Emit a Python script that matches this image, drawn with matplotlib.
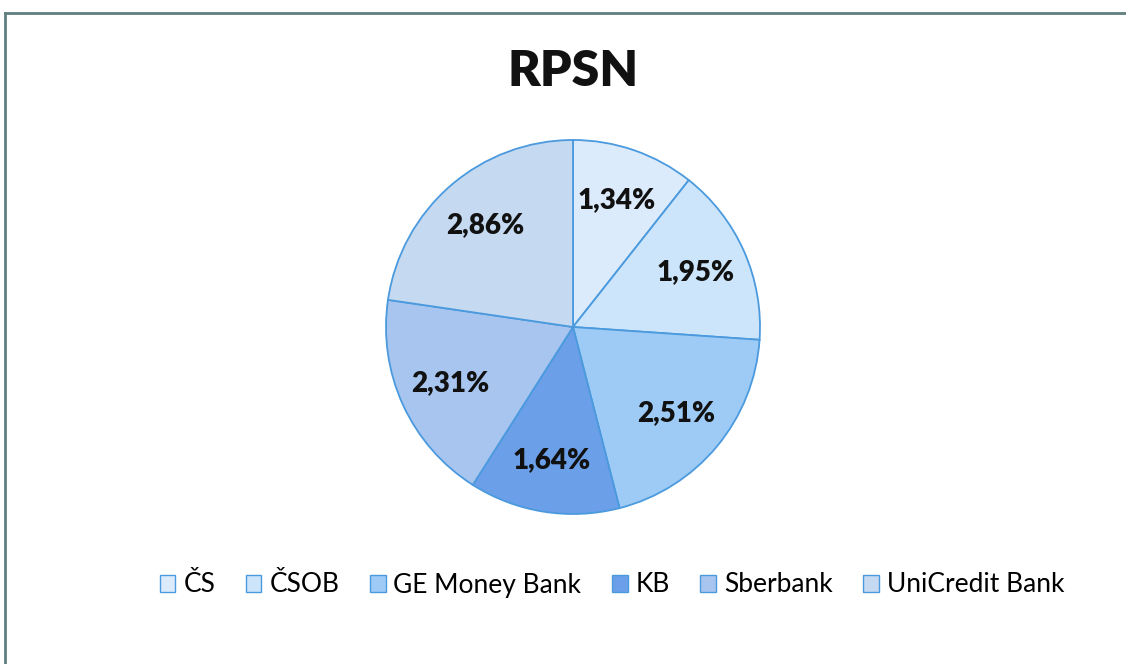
import matplotlib

matplotlib.use("Agg")
import matplotlib.pyplot as plt
import numpy as np
from matplotlib.lines import Line2D

plt.rcParams["font.family"] = ["Lato", "DejaVu Sans"]

banks = ["ČS", "ČSOB", "GE Money Bank", "KB", "Sberbank", "UniCredit Bank"]
rpsn = [1.34, 1.95, 2.51, 1.64, 2.31, 2.86]
labels = ["1,34%", "1,95%", "2,51%", "1,64%", "2,31%", "2,86%"]
colors = ["#dcebfb", "#cce5fb", "#9ecbf6", "#6b9fe8", "#a8c5ef", "#c5d9f1"]
edge = "#4b9ade"

W, H = 1126, 664
fig = plt.figure(figsize=(W / 100, H / 100), dpi=100)
fig.patch.set_facecolor("white")

# pie placed in pixel terms: centre (573, 327), radius 187
cx, cy, r = 573, 327, 187
ax = fig.add_axes([(cx - r) / W, (H - cy - r) / H, 2 * r / W, 2 * r / H])
ax.set_aspect("equal")
ax.axis("off")

wedges, _ = ax.pie(rpsn, colors=colors, startangle=90, counterclock=False,
                   radius=1.0, center=(0, 0), frame=False,
                   wedgeprops=dict(edgecolor=edge, linewidth=1.3))
total = sum(rpsn)
start = 0.0
for v, lab in zip(rpsn, labels):
    mid = np.deg2rad((start + v / 2) / total * 360)
    ax.text(0.72 * np.sin(mid), 0.72 * np.cos(mid), lab, ha="center",
            va="center", fontsize=20, fontweight="heavy", color="#111111")
    start += v
ax.set_xlim(-1, 1)
ax.set_ylim(-1, 1)

fig.text(cx / W, 1 - 72 / H, "RPSN", ha="center", va="center",
         fontsize=36, fontweight="heavy", color="#111111")

leg = fig.legend(wedges, banks, loc="center", bbox_to_anchor=(612 / W, 1 - 585 / H),
                 ncol=6, frameon=False, fontsize=19, handlelength=0.6,
                 handleheight=0.6, handletextpad=0.3, columnspacing=1.15)
for h in leg.legend_handles:
    h.set_edgecolor(edge)
    h.set_linewidth(1.0)

# outer chart border (top and left edges visible)
bc = "#5f7f7f"
fig.add_artist(Line2D([5 / W, 1.0], [1 - 13 / H, 1 - 13 / H], color=bc, lw=2,
                      transform=fig.transFigure))
fig.add_artist(Line2D([5 / W, 5 / W], [0.0, 1 - 13 / H], color=bc, lw=2,
                      transform=fig.transFigure))

fig.savefig("out.png", dpi=100, facecolor="white")
